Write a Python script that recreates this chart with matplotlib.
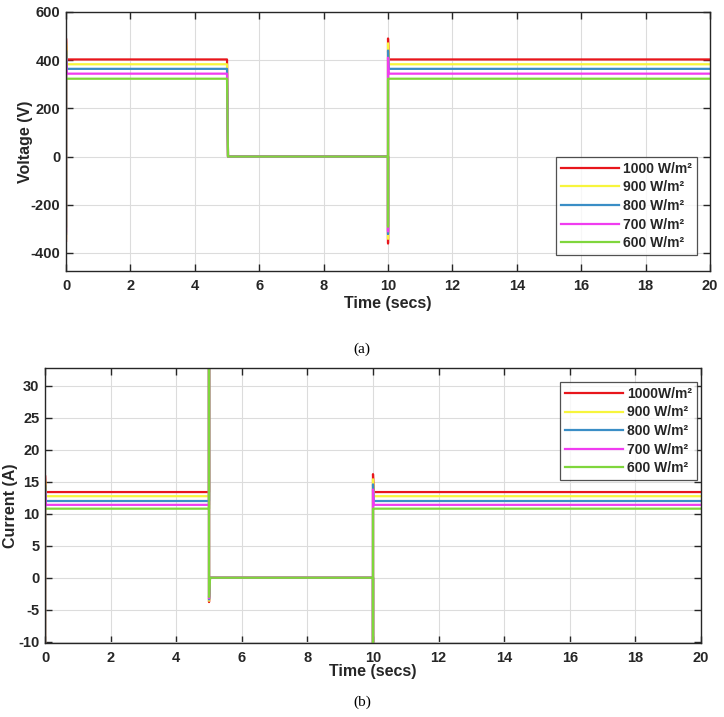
import matplotlib
matplotlib.use("Agg")
import matplotlib.pyplot as plt

# ---- data ----
labels_v = ["1000 W/m²", "900 W/m²", "800 W/m²", "700 W/m²", "600 W/m²"]
labels_i = ["1000W/m²", "900 W/m²", "800 W/m²", "700 W/m²", "600 W/m²"]
colors = ["#e8161c", "#f7f53c", "#3a8ec6", "#f03cf0", "#7fd63c"]

# voltage time breakpoints and values per irradiance
t_v = [0, 0, 0.02, 5, 5.03, 10, 10, 10, 10.02, 20]
v_1000 = [-350, 490, 403, 403, 0, 0, -360, 490, 403, 403]
v_900 = [-340, 470, 383, 383, 0, 0, -340, 470, 383, 383]
v_800 = [-320, 440, 364, 364, 0, 0, -320, 440, 364, 364]
v_700 = [-310, 410, 344, 344, 0, 0, -310, 410, 344, 344]
v_600 = [-290, 323, 323, 323, 0, 0, -290, 323, 323, 323]

# current time breakpoints and values per irradiance
t_i = [0, 0, 0.02, 5, 5, 5, 5.03, 10, 10, 10, 10.02, 20]
i_1000 = [-10.5, 16.0, 13.4, 13.4, 35, -3.8, 0, 0, -10.5, 16.2, 13.4, 13.4]
i_900 = [-10.5, 15.2, 12.75, 12.75, 35, -3.6, 0, 0, -10.5, 15.4, 12.75, 12.75]
i_800 = [-10.5, 14.5, 12.0, 12.0, 35, -3.4, 0, 0, -10.5, 14.6, 12.0, 12.0]
i_700 = [-10.5, 13.5, 11.4, 11.4, 35, -3.2, 0, 0, -10.5, 13.8, 11.4, 11.4]
i_600 = [-10.5, 10.8, 10.8, 10.8, 35, -3.0, 0, 0, -10.5, 10.8, 10.8, 10.8]

volt_series = [v_1000, v_900, v_800, v_700, v_600]
curr_series = [i_1000, i_900, i_800, i_700, i_600]

plt.rcParams['font.family'] = ['Liberation Sans', 'DejaVu Sans']
plt.rcParams['font.weight'] = 'bold'
plt.rcParams['axes.unicode_minus'] = False

fig = plt.figure(figsize=(7.24, 7.17), dpi=100)

ax1 = fig.add_axes([0.0912, 0.622, 0.8895, 0.3613])
ax2 = fig.add_axes([0.0622, 0.1032, 0.906, 0.3836])

TICK_FS = 10.5
LAB_FS = 11.5

def style(ax):
    ax.grid(True, color="#dcdcdc", linewidth=0.8)
    ax.set_axisbelow(True)
    ax.tick_params(direction="in", top=True, right=True, labelsize=TICK_FS,
                   length=5, width=1, pad=4, colors="#262626")
    ax.tick_params(axis="x", pad=6)
    for lab in ax.get_xticklabels() + ax.get_yticklabels():
        lab.set_fontweight("bold")
    for s in ax.spines.values():
        s.set_linewidth(1.0)
        s.set_color("#262626")

def add_legend(ax, labels_loc, anchor):
    leg = ax.legend(loc=labels_loc, bbox_to_anchor=anchor, fontsize=10,
                    handlelength=4.2, frameon=True, fancybox=False, borderpad=0.35,
                    labelspacing=0.33, handletextpad=0.3, borderaxespad=0)
    leg.get_frame().set_edgecolor("#262626")
    leg.get_frame().set_linewidth(0.9)
    for t in leg.get_texts():
        t.set_fontweight("bold")
        t.set_color("#262626")
    return leg

for vals, c, lab in zip(volt_series, colors, labels_v):
    ax1.plot(t_v, vals, color=c, linewidth=1.6, label=lab)
ax1.set_xlim(0, 20)
ax1.set_ylim(-475, 600)
ax1.set_xticks(range(0, 21, 2))
ax1.set_yticks([-400, -200, 0, 200, 400, 600])
style(ax1)
ax1.set_xlabel("Time (secs)", fontsize=LAB_FS, fontweight="bold", color="#262626")
ax1.xaxis.set_label_coords(0.5, -0.124, transform=ax1.transAxes)
ax1.xaxis.label.set_va("center")
ax1.set_ylabel("Voltage (V)", fontsize=LAB_FS, fontweight="bold", color="#262626")
ax1.yaxis.set_label_coords(-0.051, 0.5)
add_legend(ax1, "lower right", (0.98, 0.062))

for vals, c, lab in zip(curr_series, colors, labels_i):
    ax2.plot(t_i, vals, color=c, linewidth=1.6, label=lab)
ax2.set_xlim(0, 20)
ax2.set_ylim(-10.2, 32.8)
ax2.set_xticks(range(0, 21, 2))
ax2.set_yticks(range(-10, 31, 5))
style(ax2)
ax2.set_xlabel("Time (secs)", fontsize=LAB_FS, fontweight="bold", color="#262626")
ax2.xaxis.set_label_coords(0.5, -0.104, transform=ax2.transAxes)
ax2.xaxis.label.set_va("center")
ax2.set_ylabel("Current (A)", fontsize=LAB_FS, fontweight="bold", color="#262626")
ax2.yaxis.set_label_coords(-0.041, 0.5)
add_legend(ax2, "upper right", (0.994, 0.949))

fig.text(0.5, 1 - 349 / 717, "(a)", family="Liberation Serif", fontsize=11,
         fontweight="normal", ha="center", va="center")
fig.text(0.5, 1 - 702 / 717, "(b)", family="Liberation Serif", fontsize=11,
         fontweight="normal", ha="center", va="center")

fig.savefig("out.png", dpi=100)
